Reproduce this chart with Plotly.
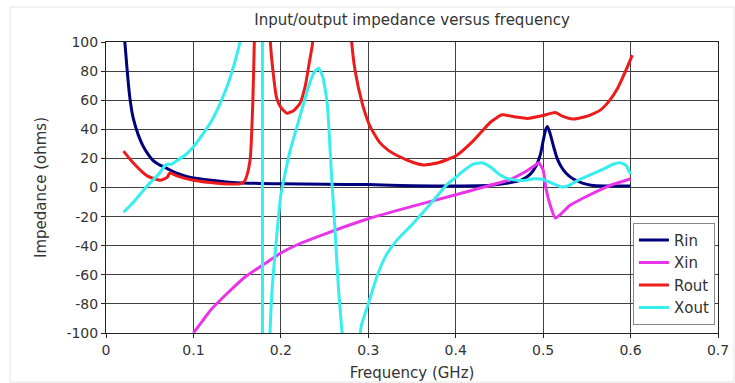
import plotly.graph_objects as go

# ---------------- data ----------------
rin_f = [0.021, 0.024, 0.027, 0.031, 0.037, 0.042, 0.048, 0.054, 0.060, 0.070, 0.080, 0.090,
         0.100, 0.120, 0.145, 0.200, 0.250, 0.300, 0.350, 0.400, 0.440, 0.460, 0.475, 0.485,
         0.492, 0.497, 0.500, 0.503, 0.505, 0.508, 0.512, 0.516, 0.520, 0.526, 0.534, 0.545,
         0.555, 0.570, 0.600]
rin_v = [104, 82, 63, 48, 36, 29, 23, 18.5, 16, 13, 10, 8,
         6.5, 5, 3.5, 2.5, 2.2, 2, 1.2, 1, 1.5, 3, 5, 9,
         15, 23, 32, 40, 42, 37, 28, 20, 15, 10, 6, 3,
         1.5, 1, 1]

xin_f = [0.100, 0.110, 0.120, 0.140, 0.160, 0.180, 0.200, 0.220, 0.250, 0.300, 0.350, 0.400,
         0.430, 0.460, 0.480, 0.490, 0.495, 0.500, 0.503, 0.508, 0.514, 0.520, 0.530, 0.550,
         0.575, 0.600]
xin_v = [-100, -92, -84, -72, -61, -53, -45, -39, -32, -21.5, -13, -5,
         0, 5, 11, 15, 17, 12, 0, -12, -21, -18.5, -12.5, -6,
         1, 6]

rout_f = [0.020, 0.031, 0.047, 0.062, 0.070, 0.073, 0.081, 0.100, 0.127, 0.153, 0.158, 0.161,
          0.165, 0.168, 0.170, 0.175, 0.182, 0.186, 0.188, 0.191, 0.195, 0.200, 0.207, 0.215,
          0.222, 0.228, 0.232, 0.236, 0.240, 0.260, 0.278, 0.281, 0.285, 0.293, 0.302, 0.313,
          0.323, 0.333, 0.350, 0.363, 0.380, 0.401, 0.420, 0.440, 0.453, 0.468, 0.482, 0.500,
          0.514, 0.522, 0.534, 0.550, 0.565, 0.575, 0.585, 0.595, 0.602]
rout_v = [25, 17, 8, 5, 7, 10, 8, 5, 3, 2.5, 4, 8,
          20, 60, 110, 300, 300, 140, 100, 80, 62, 55, 51, 53,
          58, 70, 84, 98, 125, 250, 130, 100, 80, 58, 42, 31,
          25.5, 22, 17.5, 15.5, 17, 22, 32, 45, 50, 48.5, 47.5, 49.5,
          51.5, 49, 47, 49, 53, 59, 68, 81, 91]

xout_f = [0.020, 0.030, 0.040, 0.050, 0.060, 0.066, 0.070, 0.075, 0.080, 0.090, 0.100, 0.110,
          0.120, 0.130, 0.140, 0.150, 0.155, 0.165, 0.1775, 0.1795, 0.184, 0.187, 0.190, 0.195,
          0.200, 0.205, 0.210, 0.220, 0.230, 0.237, 0.243, 0.248, 0.253, 0.258, 0.262, 0.266,
          0.270, 0.275, 0.282, 0.288, 0.292, 0.300, 0.310, 0.320, 0.333, 0.350, 0.365, 0.375,
          0.390, 0.400, 0.410, 0.420, 0.430, 0.440, 0.450, 0.460, 0.470, 0.480, 0.490, 0.500,
          0.510, 0.520, 0.528, 0.540, 0.555, 0.570, 0.580, 0.588, 0.595, 0.600]
xout_v = [-17, -11, -4, 3, 9, 14, 16, 16, 18, 22, 28, 36,
          45, 57, 72, 92, 105, 150, 1000, -1000, -200, -110, -70, -35,
          -5, 10, 24, 45, 66, 78, 82, 76, 58, 8, -30, -70,
          -100, -140, -180, -120, -95, -80, -61, -47, -36, -25.5, -15.5, -8.5,
          2, 7, 12, 16, 17, 14, 9, 6, 5, 5, 6, 5.5,
          3, 0.5, 1, 5, 9, 13, 16, 17, 15, 9]

x_ticks = [0, 0.1, 0.2, 0.3, 0.4, 0.5, 0.6, 0.7]
x_labels = ["0", "0.1", "0.2", "0.3", "0.4", "0.5", "0.6", "0.7"]
y_ticks = [-100, -80, -60, -40, -20, 0, 20, 40, 60, 80, 100]
y_labels = ["-100", "-80", "-60", "-40", "-20", "0", "20", "40", "60", "80", "100"]

series = [
    ("Rin", rin_f, rin_v, "#00007f"),
    ("Xin", xin_f, xin_v, "#e935e9"),
    ("Rout", rout_f, rout_v, "#ec1c1c"),
    ("Xout", xout_f, xout_v, "#38eded"),
]

FONT = "DejaVu Sans, Liberation Sans, Arial, sans-serif"

fig = go.Figure()
for name, f, v, col in series:
    fig.add_trace(go.Scatter(x=f, y=v, mode="lines", name=name,
                             line=dict(color=col, width=3, shape="spline", smoothing=0.5)))

fig.update_layout(
    width=735, height=383,
    margin=dict(l=106, r=17, t=42, b=50),
    paper_bgcolor="white", plot_bgcolor="white",
    font=dict(family=FONT, size=14, color="#333333"),
    title=dict(text="Input/output impedance versus frequency",
               x=0.5, xref="paper", xanchor="center",
               y=1 - 20 / 383, yanchor="middle",
               font=dict(family=FONT, size=15, color="#333333")),
    showlegend=True,
    legend=dict(x=0.995, y=0.028, xanchor="right", yanchor="bottom",
                bgcolor="white", bordercolor="#888888", borderwidth=1,
                font=dict(family=FONT, size=15, color="#333333"),
                tracegroupgap=0, itemwidth=30),
    shapes=[dict(type="rect", xref="paper", yref="paper",
                 x0=(10 - 106) / 612, x1=(734 - 106) / 612,
                 y0=(333 - 382) / 291, y1=(333 - 7) / 291,
                 line=dict(color="#e4e4e4", width=1), layer="below")],
)

fig.update_xaxes(
    range=[0, 0.7], tickvals=x_ticks, ticktext=x_labels,
    showgrid=True, gridcolor="#404040", gridwidth=1,
    showline=True, linecolor="#222222", linewidth=1, mirror=True,
    ticks="outside", ticklen=4, tickcolor="#222222",
    zeroline=False, automargin=False,
    title=dict(text="Frequency (GHz)", font=dict(family=FONT, size=15, color="#333333"),
               standoff=10),
    tickfont=dict(family=FONT, size=14, color="#333333"),
)
fig.update_yaxes(
    range=[-100, 100], tickvals=y_ticks, ticktext=y_labels,
    showgrid=True, gridcolor="#404040", gridwidth=1,
    showline=True, linecolor="#222222", linewidth=1, mirror=True,
    ticks="outside", ticklen=4, tickcolor="#222222",
    zeroline=False, automargin=False,
    title=dict(text="Impedance (ohms)", font=dict(family=FONT, size=15, color="#333333"),
               standoff=16),
    tickfont=dict(family=FONT, size=14, color="#333333"),
)

fig.write_html("out.html")
